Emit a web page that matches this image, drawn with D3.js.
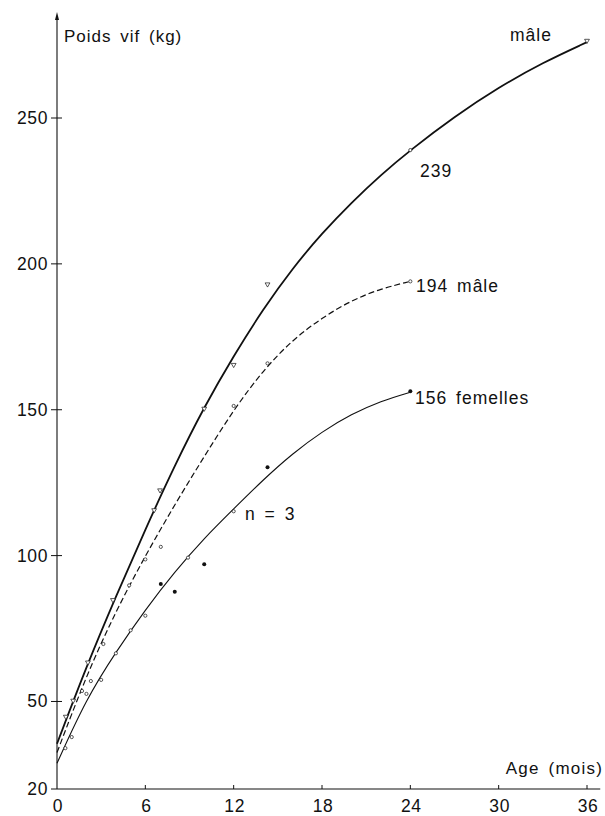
<!DOCTYPE html>
<html>
<head>
<meta charset="utf-8">
<script src="https://cdn.jsdelivr.net/npm/d3@7"></script>
<style>
  body { margin: 0; background: #fff; }
  text { font-family: "Liberation Sans", Arial, sans-serif; fill: #111; }
</style>
</head>
<body>
<div id="chart"></div>
<script>
// fitted curves (age in months, live weight in kg)
const curveAges = [0, 2, 4, 6, 8, 10, 12, 14, 16, 18, 20, 22, 24];
const maleCurveAges = [0, 2, 4, 6, 8, 10, 12, 14, 16, 18, 20, 22, 24, 27, 30, 33, 36];
const maleCurve = [35.5, 62, 86, 109, 131, 151, 168.5, 184.5, 198.5, 210.5, 221, 230.5, 239, 250.5, 260.5, 269, 276];
const male2Curve = [32.5, 59, 81, 100, 117.5, 134, 150, 163.5, 174, 181.5, 187.5, 191.5, 194];
const femaleCurve = [28.8, 51, 67, 81.5, 94.5, 106, 116, 126, 135, 142.5, 148.5, 153, 156];

// observed points
const maleAges = [0.6, 1.1, 2.1, 3.8, 6.6, 7.0, 10, 12, 14.3, 36];
const maleWeights = [44.8, 50.3, 63.4, 84.8, 115.6, 122.4, 150.4, 165.4, 193, 276.5];
const male24 = [[24, 239]];
const male2Ages = [1.7, 2.3, 3.15, 4.9, 6, 7.05, 12, 14.3, 24];
const male2Weights = [53.6, 57, 69.7, 89.8, 98.7, 103, 151.3, 165.9, 194];
const femOpenAges = [0.57, 1.0, 2.0, 3.0, 4.0, 5.0, 6.0, 8.9, 12];
const femOpenWeights = [34, 37.8, 52.6, 57.4, 66.5, 74.4, 79.4, 99.3, 115.2];
const femFilledAges = [7.05, 8.0, 10, 14.3, 24];
const femFilledWeights = [90.3, 87.6, 97, 130.3, 156.3];

const yTicks = [20, 50, 100, 150, 200, 250];
const xTicks = [0, 6, 12, 18, 24, 30, 36];

const W = 605, H = 816;
const svg = d3.select("#chart").append("svg")
  .attr("width", W).attr("height", H);

const x = d3.scaleLinear().domain([0, 36]).range([57, 587]);
const y = d3.scaleLinear().domain([20, 250]).range([789, 118]);

const ink = "#111";

// axes
svg.append("line")
  .attr("x1", x(0)).attr("x2", x(36.9))
  .attr("y1", y(20)).attr("y2", y(20))
  .attr("stroke", ink).attr("stroke-width", 1.1);
svg.append("line")
  .attr("x1", x(0)).attr("x2", x(0))
  .attr("y1", y(20)).attr("y2", 16)
  .attr("stroke", ink).attr("stroke-width", 1.1);
// small arrow head on the y axis
svg.append("path")
  .attr("d", `M${x(0) - 2},${20} L${x(0)},${12} L${x(0) + 2},${20} Z`)
  .attr("fill", ink);

// y ticks (cross ticks) and labels
svg.append("g").selectAll("line")
  .data(yTicks.filter((d) => d !== 20))
  .join("line")
  .attr("x1", x(0) - 6).attr("x2", x(0) + 5)
  .attr("y1", (d) => y(d)).attr("y2", (d) => y(d))
  .attr("stroke", ink).attr("stroke-width", 1);
svg.append("line")
  .attr("x1", x(0) - 6).attr("x2", x(0))
  .attr("y1", y(20)).attr("y2", y(20))
  .attr("stroke", ink).attr("stroke-width", 1);
svg.append("g").selectAll("text")
  .data(yTicks)
  .join("text")
  .attr("x", 48)
  .attr("y", (d) => y(d) + 6)
  .attr("text-anchor", "end")
  .style("font-size", "17.5px")
  .style("letter-spacing", "0.6px")
  .text((d) => d);

// x ticks and labels
svg.append("g").selectAll("line")
  .data(xTicks.filter((d) => d !== 0))
  .join("line")
  .attr("x1", (d) => x(d)).attr("x2", (d) => x(d))
  .attr("y1", y(20)).attr("y2", y(20) - 4)
  .attr("stroke", ink).attr("stroke-width", 1);
svg.append("g").selectAll("text")
  .data(xTicks)
  .join("text")
  .attr("x", (d) => x(d) + 1)
  .attr("y", 812)
  .attr("text-anchor", "middle")
  .style("font-size", "17.5px")
  .style("letter-spacing", "0.6px")
  .text((d) => d);

// axis titles
svg.append("text")
  .attr("x", 64).attr("y", 42)
  .style("font-size", "17px")
  .style("letter-spacing", "1px")
  .style("word-spacing", "3px")
  .text("Poids vif (kg)");
svg.append("text")
  .attr("x", 603).attr("y", 774)
  .attr("text-anchor", "end")
  .style("font-size", "17px")
  .style("letter-spacing", "1.2px")
  .style("word-spacing", "3px")
  .text("Age (mois)");

// fitted curves
const line = d3.line()
  .x((d) => x(d[0]))
  .y((d) => y(d[1]))
  .curve(d3.curveBasis);

svg.append("path")
  .datum(d3.zip(maleCurveAges, maleCurve))
  .attr("d", line)
  .attr("fill", "none").attr("stroke", ink).attr("stroke-width", 1.8);
svg.append("path")
  .datum(d3.zip(curveAges, male2Curve))
  .attr("d", line)
  .attr("fill", "none").attr("stroke", ink).attr("stroke-width", 1.2)
  .attr("stroke-dasharray", "6,3");
svg.append("path")
  .datum(d3.zip(curveAges, femaleCurve))
  .attr("d", line)
  .attr("fill", "none").attr("stroke", ink).attr("stroke-width", 1.1);

// markers
const tri = d3.symbol().type(d3.symbolTriangle).size(10);
svg.append("g").selectAll("path")
  .data(d3.zip(maleAges, maleWeights))
  .join("path")
  .attr("d", tri)
  .attr("transform", (d) => `translate(${x(d[0])},${y(d[1])}) rotate(180)`)
  .attr("fill", "#fff").attr("stroke", ink).attr("stroke-width", 0.7);

svg.append("g").selectAll("circle")
  .data(male24.concat(d3.zip(male2Ages, male2Weights), d3.zip(femOpenAges, femOpenWeights)))
  .join("circle")
  .attr("cx", (d) => x(d[0])).attr("cy", (d) => y(d[1]))
  .attr("r", 1.6)
  .attr("fill", "#fff").attr("stroke", ink).attr("stroke-width", 0.7);

svg.append("g").selectAll("circle")
  .data(d3.zip(femFilledAges, femFilledWeights))
  .join("circle")
  .attr("cx", (d) => x(d[0])).attr("cy", (d) => y(d[1]))
  .attr("r", 2)
  .attr("fill", ink);

// annotations
const notes = [
  { t: "mâle", x: 510, y: 41 },
  { t: "239", x: 420, y: 177 },
  { t: "194 mâle", x: 416, y: 292 },
  { t: "156 femelles", x: 415, y: 404 },
  { t: "n = 3", x: 245, y: 520 },
];
svg.append("g").selectAll("text")
  .data(notes)
  .join("text")
  .attr("x", (d) => d.x).attr("y", (d) => d.y)
  .style("font-size", "17.5px")
  .style("letter-spacing", "1px")
  .style("word-spacing", "3px")
  .text((d) => d.t);
</script>
</body>
</html>
